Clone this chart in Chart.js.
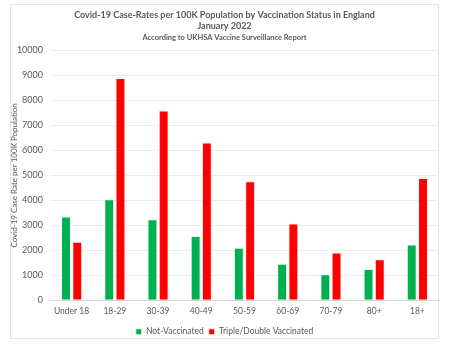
<!DOCTYPE html>
<html>
<head>
<meta charset="utf-8">
<script src="https://cdn.jsdelivr.net/npm/chart.js@4/dist/chart.umd.min.js"></script>
<style>
  html, body { margin: 0; padding: 0; background: #fff; }
  #wrap { position: relative; width: 450px; height: 349px; }
  #frame { position: absolute; left: 10px; top: 4px; width: 429px; height: 335px; border: 1px solid #e3e3e3; box-sizing: border-box; }
  canvas { position: absolute; left: 0; top: 0; }
</style>
</head>
<body>
<div id="wrap">
  <div id="frame"></div>
  <canvas id="c" width="450" height="349"></canvas>
</div>
<script>
// Age bands
const categories = ['Under 18', '18-29', '30-39', '40-49', '50-59', '60-69', '70-79', '80+', '18+'];
// Case rates per 100K, January 2022
const notVaccinated = [3350, 4040, 3240, 2570, 2100, 1460, 1040, 1250, 2230];
const tripleDoubleVaccinated = [2340, 8900, 7600, 6310, 4760, 3070, 1910, 1640, 4890];
// Y axis ticks
const yTicks = [0, 1000, 2000, 3000, 4000, 5000, 6000, 7000, 8000, 9000, 10000];

const FONT = 'Lato, "Open Sans", sans-serif';
const GREY = '#595959';

new Chart(document.getElementById('c'), {
  type: 'bar',
  data: {
    labels: categories,
    datasets: [
      {
        label: 'Not-Vaccinated',
        data: notVaccinated,
        backgroundColor: '#00B050',
        borderColor: '#e9f7ee',
        borderWidth: 1,
        barPercentage: 0.88,
        categoryPercentage: 0.52
      },
      {
        label: 'Triple/Double Vaccinated',
        data: tripleDoubleVaccinated,
        backgroundColor: '#FF0000',
        borderColor: '#ffecec',
        borderWidth: 1,
        barPercentage: 0.88,
        categoryPercentage: 0.52
      }
    ]
  },
  options: {
    responsive: false,
    animation: false,
    layout: { padding: { left: 10, right: 11, top: 4, bottom: 3 } },
    plugins: {
      title: {
        display: true,
        text: ['Covid-19 Case-Rates per 100K Population by Vaccination Status in England', 'January 2022'],
        color: GREY,
        font: { family: FONT, size: 9, weight: 'bold', lineHeight: 1.3 },
        padding: { top: 5, bottom: 0 }
      },
      subtitle: {
        display: true,
        text: 'According to UKHSA Vaccine Surveillance Report',
        color: GREY,
        font: { family: FONT, size: 7.5, weight: 'bold' },
        padding: { top: 1, bottom: 8 }
      },
      legend: {
        position: 'bottom',
        labels: {
          color: GREY,
          font: { family: FONT, size: 8.5 },
          boxWidth: 6,
          boxHeight: 6,
          padding: 5
        }
      },
      tooltip: { enabled: false }
    },
    scales: {
      x: {
        grid: { display: false, drawTicks: false },
        border: { display: true, color: '#d9d9d9' },
        ticks: { color: GREY, font: { family: FONT, size: 8.5 }, padding: 6, maxRotation: 0, autoSkip: false }
      },
      y: {
        min: 0,
        max: 10000,
        afterBuildTicks: s => { s.ticks = yTicks.map(v => ({ value: v })); },
        grid: { color: '#ececec', drawTicks: false },
        border: { display: false },
        ticks: { color: GREY, font: { family: FONT, size: 9 }, padding: 7, callback: v => String(v) },
        title: {
          display: true,
          text: 'Covid-19 Case Rate per 100K Population',
          color: GREY,
          font: { family: FONT, size: 8 },
          padding: 0
        },
        afterFit: s => { s.width = 40; }
      }
    }
  }
});
</script>
</body>
</html>
